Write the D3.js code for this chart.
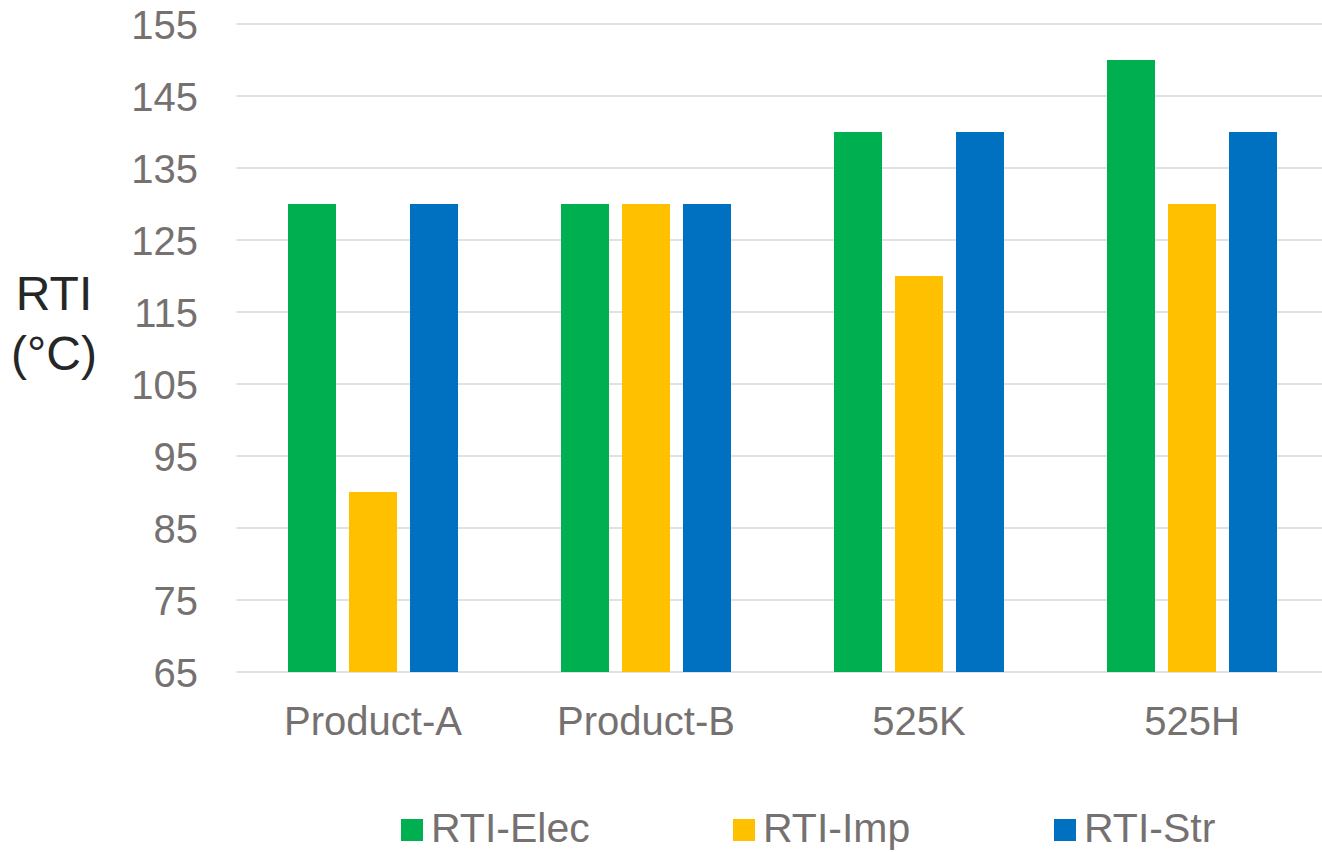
<!DOCTYPE html>
<html>
<head>
<meta charset="utf-8">
<script src="https://cdn.jsdelivr.net/npm/d3@7"></script>
<style>
  html, body { margin: 0; padding: 0; background: #fff; }
  svg { display: block; }
  text { font-family: "Liberation Sans", Arial, sans-serif; }
</style>
</head>
<body>
<svg id="chart" width="1322" height="852"></svg>
<script>
// Relative thermal index per product, in °C
const categories = ["Product-A", "Product-B", "525K", "525H"];
const seriesNames = ["RTI-Elec", "RTI-Imp", "RTI-Str"];
const rtiElec = [130, 130, 140, 150];
const rtiImp  = [90, 130, 120, 130];
const rtiStr  = [130, 130, 140, 140];
const yTicks = [65, 75, 85, 95, 105, 115, 125, 135, 145, 155];
const seriesColors = ["#00B050", "#FFC000", "#0070C0"];

const seriesValues = [rtiElec, rtiImp, rtiStr];

const svg = d3.select("#chart");
const textGrey = "#767171";

const plotLeft = 236.5, plotRight = 1328.5, plotTop = 24, plotBottom = 672;

const x = d3.scaleBand().domain(categories).range([plotLeft, plotRight]).padding(0);
const y = d3.scaleLinear().domain([65, 155]).range([plotBottom, plotTop]);

// Bars are 48px wide, spaced 61px apart within each category
const barW = 48, barStep = 61;
const inner = d3.scaleLinear().domain([0, 2]).range([-barStep, barStep]);

// Horizontal gridlines
svg.append("g")
  .selectAll("line")
  .data(yTicks)
  .join("line")
  .attr("x1", plotLeft)
  .attr("x2", 1322)
  .attr("y1", d => y(d))
  .attr("y2", d => y(d))
  .attr("stroke", "#D9D9D9")
  .attr("stroke-width", 1.5);

// Bars
seriesValues.forEach((vals, si) => {
  svg.append("g")
    .selectAll("rect")
    .data(vals.map((v, i) => ({ cat: categories[i], v })))
    .join("rect")
    .attr("x", d => x(d.cat) + x.bandwidth() / 2 + inner(si) - barW / 2)
    .attr("y", d => y(d.v))
    .attr("width", barW)
    .attr("height", d => y(65) - y(d.v))
    .attr("fill", seriesColors[si]);
});

// Y axis labels
const yAxis = d3.axisLeft(y).tickValues(yTicks).tickSize(0).tickPadding(0);
const yg = svg.append("g").attr("transform", `translate(198,0)`).call(yAxis);
yg.select(".domain").remove();
yg.selectAll("text")
  .attr("fill", textGrey)
  .attr("font-size", 40)
  .attr("dy", "0.36em")
  .style("font-family", "'Liberation Sans', Arial, sans-serif");

// X axis labels
const xAxis = d3.axisBottom(x).tickSize(0).tickPadding(0);
const xg = svg.append("g").attr("transform", `translate(0,${plotBottom})`).call(xAxis);
xg.select(".domain").remove();
xg.selectAll("text")
  .attr("fill", textGrey)
  .attr("font-size", 40)
  .attr("dy", 0)
  .attr("y", 63)
  .style("font-family", "'Liberation Sans', Arial, sans-serif");

// Y axis title
const title = svg.append("text")
  .attr("text-anchor", "middle")
  .attr("fill", "#262626")
  .attr("font-size", 48);
title.append("tspan").attr("x", 54).attr("y", 310).text("RTI");
title.append("tspan").attr("x", 54).attr("y", 370).text("(°C)");

// Legend
const legendX = [401, 733, 1054];
const legend = svg.append("g")
  .selectAll("g")
  .data(seriesNames)
  .join("g")
  .attr("transform", (d, i) => `translate(${legendX[i]},0)`);
legend.append("rect")
  .attr("x", 0).attr("y", 819)
  .attr("width", 22).attr("height", 22)
  .attr("fill", (d, i) => seriesColors[i]);
legend.append("text")
  .attr("x", 30).attr("y", 842)
  .attr("fill", textGrey)
  .attr("font-size", 41)
  .text(d => d);
</script>
</body>
</html>
